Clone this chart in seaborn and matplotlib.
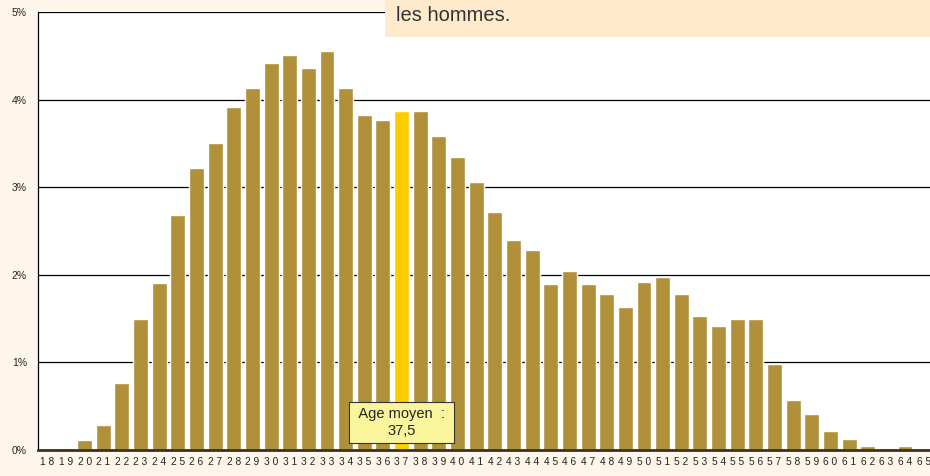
import numpy as np
import pandas as pd
import matplotlib
matplotlib.use('Agg')
import matplotlib.pyplot as plt
import seaborn as sns

# Age distribution (share of men per age, in %)
ages = list(range(18, 66))
shares = [0.00, 0.02, 0.11, 0.28, 0.76, 1.49, 1.91, 2.68, 3.22, 3.50,
          3.91, 4.13, 4.42, 4.51, 4.36, 4.56, 4.13, 3.82, 3.77, 3.87,
          3.87, 3.59, 3.34, 3.06, 2.72, 2.40, 2.28, 1.89, 2.04, 1.89,
          1.78, 1.63, 1.92, 1.97, 1.78, 1.53, 1.42, 1.49, 1.49, 0.98,
          0.57, 0.41, 0.22, 0.12, 0.05, 0.02, 0.05, 0.00]
mean_age_label = " Age moyen  : \n37,5"
highlight_age = 37
yticks = [0, 1, 2, 3, 4, 5]

bar_col = '#B0913A'
hi_col = '#FFCC00'
bg_col = '#FEF6EA'

df = pd.DataFrame({'age': [str(a) for a in ages], 'share': shares})
palette = {str(a): (hi_col if a == highlight_age else bar_col) for a in ages}

sns.set_style('white')
plt.rcParams['font.family'] = ['Liberation Sans', 'DejaVu Sans']

fig = plt.figure(figsize=(9.3, 4.76), dpi=100, facecolor=bg_col)
ax = fig.add_axes([38 / 930, 1 - 450 / 476, 895 / 930, 438 / 476])
ax.set_facecolor('white')

sns.barplot(data=df, x='age', y='share', hue='age', palette=palette,
            legend=False, width=0.8, saturation=1, ax=ax, zorder=3)

ax.set_ylim(0, 5)
ax.set_xlim(-0.5, len(ages) - 0.5)
ax.set_yticks(yticks)
ax.set_yticklabels([f'{t}%' for t in yticks], fontsize=7.5, color='#222222')
# spaced-out digits like the original
ax.set_xticks(range(len(ages)))
ax.set_xticklabels([' '.join(str(a)) for a in ages], fontsize=7.3)
ax.tick_params(axis='x', length=0, pad=5, colors='#222222')
ax.tick_params(axis='y', length=0, pad=8)
for t in yticks[1:]:
    ax.axhline(t, color='black', lw=0.9, zorder=1)
ax.set_xlabel('')
ax.set_ylabel('')
for s in ['top', 'right']:
    ax.spines[s].set_visible(False)
ax.spines['left'].set_color('black')
ax.spines['left'].set_linewidth(0.9)
ax.spines['bottom'].set_color('#3a3222')
ax.spines['bottom'].set_linewidth(2)
ax.spines['bottom'].set_zorder(4)

# mean age label
ax.text(ages.index(highlight_age), 0.31, mean_age_label, ha='center', va='center',
        fontsize=10.5, color='#222222', linespacing=1.25, zorder=5,
        bbox=dict(boxstyle='square,pad=0.35', fc='#FAF59C', ec='#333333', lw=0.8))

# caption box cut at the top
fig.patches.append(plt.Rectangle((385 / 930, 1 - 37 / 476), 545 / 930, 37 / 476,
                                 transform=fig.transFigure, facecolor='#FFEBCB',
                                 edgecolor='none', zorder=10))
fig.text(396 / 930, 1 - 21 / 476, 'les hommes.', fontsize=14.5, color='#333333',
         va='baseline', ha='left', zorder=11)

fig.savefig('out.png', dpi=100, facecolor=bg_col)
